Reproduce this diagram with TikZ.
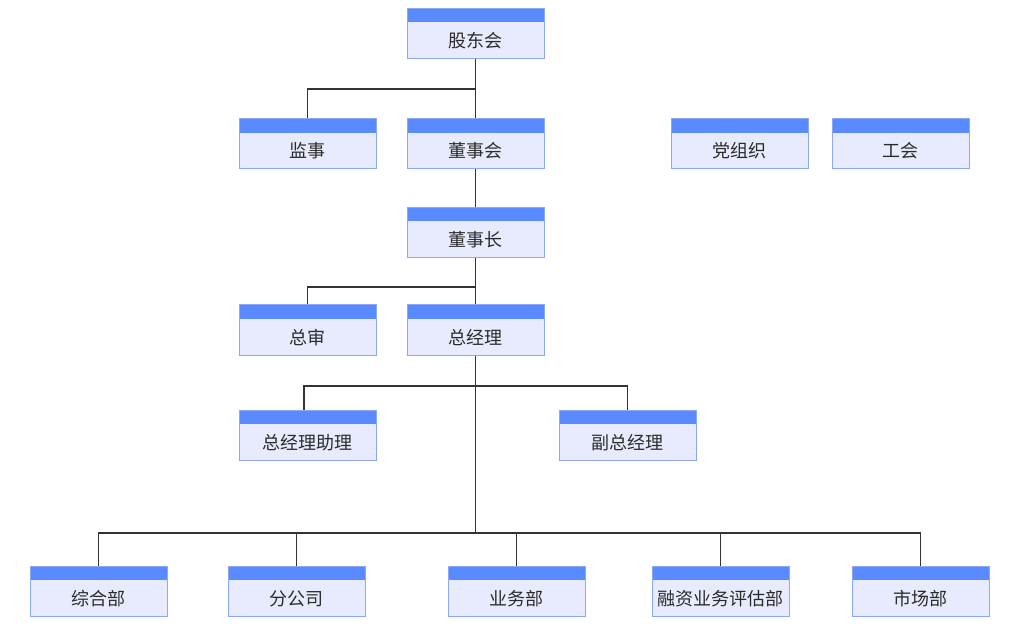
\documentclass[tikz,border=0pt]{standalone}
\usepackage{fontspec}
\setmainfont{Noto Sans CJK SC}
\definecolor{hdrblue}{HTML}{5A8AFF}
\definecolor{bodyblue}{HTML}{E8EBFD}
\definecolor{edgeblue}{HTML}{8DA8F5}
\definecolor{linegray}{HTML}{333333}
\definecolor{txtgray}{HTML}{2B2B2B}
\begin{document}
\begin{tikzpicture}[x=1pt,y=-1pt,
    orgbox/.style={draw=edgeblue, line width=1pt, fill=bodyblue,
        minimum width=137pt, inner xsep=0pt, inner ysep=0pt,
        text height=39pt, text depth=11pt, text=txtgray,
        font=\fontsize{18}{21}\selectfont,
        path picture={\fill[hdrblue] (path picture bounding box.north west)
            rectangle ([yshift=-14pt]path picture bounding box.north east);}},
    link/.style={draw=linegray, line width=1.2pt}]
    \useasboundingbox (0,0) rectangle (1018,631);

    \node[orgbox] (gdh) at (475.5, 33.5) {股东会};
    \node[orgbox] (js) at (307.5, 144) {监事};
    \node[orgbox] (dsh) at (475.5, 144) {董事会};
    \node[orgbox] (dzz) at (739.5, 144) {党组织};
    \node[orgbox] (gh) at (900.5, 144) {工会};
    \node[orgbox] (dsz) at (475.5, 232.5) {董事长};
    \node[orgbox] (zs) at (307.5, 330) {总审};
    \node[orgbox] (zjl) at (475.5, 330) {总经理};
    \node[orgbox] (zjlzl) at (307.5, 435) {总经理助理};
    \node[orgbox] (fzjl) at (627.5, 435) {副总经理};
    \node[orgbox] (zhb) at (98.5, 591) {综合部};
    \node[orgbox] (fgs) at (296.5, 591) {分公司};
    \node[orgbox] (ywb) at (516.5, 591) {业务部};
    \node[orgbox] (rzpg) at (720.5, 591) {融资业务评估部};
    \node[orgbox] (scb) at (920.5, 591) {市场部};

    \coordinate (j1) at (475.5, 89);
    \coordinate (j2) at (475.5, 287);
    \coordinate (j3) at (475.5, 386);
    \coordinate (j4) at (475.5, 533);

    \draw[link] (gdh) -- (dsh);
    \draw[link] (j1) -| (js);
    \draw[link] (dsh) -- (dsz);
    \draw[link] (dsz) -- (zjl);
    \draw[link] (j2) -| (zs);
    \draw[link] (zjl.south) -- (j4);
    \draw[link] (j3) -| ([xshift=-3.5pt]zjlzl.north);
    \draw[link] (j3) -| (fzjl);
    \draw[link] (j4) -| (zhb);
    \draw[link] (j4) -| (fgs);
    \draw[link] (j4) -| (ywb);
    \draw[link] (j4) -| (rzpg);
    \draw[link] (j4) -| (scb);
\end{tikzpicture}
\end{document}
